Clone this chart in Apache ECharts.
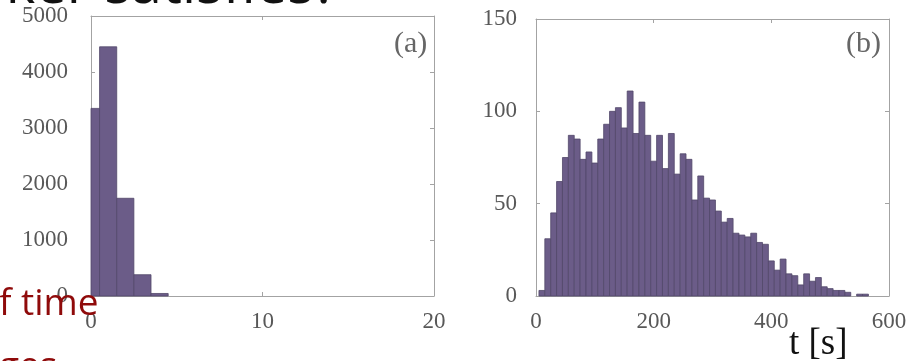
<!DOCTYPE html>
<html><head><meta charset="utf-8">
<script src="https://cdn.jsdelivr.net/npm/echarts@6/dist/echarts.min.js"></script>
<style>html,body{margin:0;padding:0;background:#fff}#c{width:913px;height:361px}</style>
</head><body><div id="c"></div>
<script>
// Panel (a): histogram, bin width 1, centers 0..4
const aCenters = [0, 1, 2, 3, 4];
const aCounts = [3350, 4450, 1745, 380, 45];
const aBinWidth = 1;
const aXTicks = [0, 10, 20];
const aYTicks = [0, 1000, 2000, 3000, 4000, 5000];

// Panel (b): histogram, bin width 10 s, centers 10..560
const bCenters = [10,20,30,40,50,60,70,80,90,100,110,120,130,140,150,160,170,180,190,200,
  210,220,230,240,250,260,270,280,290,300,310,320,330,340,350,360,370,380,390,400,
  410,420,430,440,450,460,470,480,490,500,510,520,530,540,550,560];
const bCounts = [3,31,45,62,75,87,85,74,78,72,85,93,100,102,91,111,88,105,87,73,
  87,69,88,66,77,74,52,65,53,52,46,40,42,34,33,32,34,29,28,19,
  14,20,12,11,6,12,8,10,5,4,3,3,2,0,1,1];
const bBinWidth = 10;
const bXTicks = [0, 200, 400, 600];
const bYTicks = [0, 50, 100, 150];

const panelLabels = ['(a)', '(b)'];
const xAxisTitle = 't [s]';
const slideTexts = ['ker satisfies?', 'f time', 'ges'];

const FILL = '#6b5c88', EDGE = '#52476a', BOX = '#a3a3a3', LBL = '#585858';
const SERIF = '"Liberation Serif", "DejaVu Serif", serif';

function ticksCfg(t) { return { min: t[0], max: t[t.length - 1], interval: t[1] - t[0] }; }
function plain(v) { return String(v); }

function xAx(grid, ticks, pos, showLabel) {
  return Object.assign({
    type: 'value', gridIndex: grid, position: pos,
    axisLine: { show: true, onZero: false, lineStyle: { color: BOX, width: 1 } },
    axisTick: { show: true, inside: true, length: 4, lineStyle: { color: BOX } },
    axisLabel: { show: showLabel, color: LBL, fontFamily: SERIF, fontSize: 23, margin: 14,
      showMinLabel: true, showMaxLabel: true, formatter: plain },
    splitLine: { show: false }
  }, ticksCfg(ticks));
}
function yAx(grid, ticks, pos, showLabel, margin) {
  return Object.assign({
    type: 'value', gridIndex: grid, position: pos,
    axisLine: { show: true, onZero: false, lineStyle: { color: BOX, width: 1 } },
    axisTick: { show: true, inside: true, length: 4, lineStyle: { color: BOX } },
    axisLabel: { show: showLabel, color: LBL, fontFamily: SERIF, fontSize: 23, margin: margin,
      showMinLabel: true, showMaxLabel: true, formatter: plain },
    splitLine: { show: false }
  }, ticksCfg(ticks));
}

function histSeries(idx, centers, counts, width, xmin) {
  return {
    type: 'custom', xAxisIndex: idx * 2, yAxisIndex: idx * 2, z: 1,
    data: centers.map((c, i) => [c, counts[i]]),
    renderItem: function (params, api) {
      const c = api.value(0), v = api.value(1);
      if (!v) return null;
      const x0 = Math.max(c - width / 2, xmin), x1 = c + width / 2;
      const p0 = api.coord([x0, v]), p1 = api.coord([x1, 0]);
      return { type: 'rect',
        shape: { x: p0[0], y: p0[1], width: p1[0] - p0[0], height: p1[1] - p0[1] },
        style: { fill: FILL, stroke: EDGE, lineWidth: 0.8 } };
    }
  };
}

const chart = echarts.init(document.getElementById('c'), null, { renderer: 'canvas' });
chart.setOption({
  animation: false,
  backgroundColor: '#fff',
  grid: [
    { left: 91, top: 16, width: 343, height: 280, show: false },
    { left: 536, top: 19, width: 353, height: 277, show: false }
  ],
  xAxis: [
    xAx(0, aXTicks, 'bottom', true), xAx(0, aXTicks, 'top', false),
    xAx(1, bXTicks, 'bottom', true), xAx(1, bXTicks, 'top', false)
  ],
  yAxis: [
    yAx(0, aYTicks, 'left', true, 23), yAx(0, aYTicks, 'right', false, 8),
    yAx(1, bYTicks, 'left', true, 19), yAx(1, bYTicks, 'right', false, 8)
  ],
  series: [
    histSeries(0, aCenters, aCounts, aBinWidth, aXTicks[0]),
    histSeries(1, bCenters, bCounts, bBinWidth, bXTicks[0])
  ],
  graphic: [
    { type: 'text', left: 394, top: 29, z: 10,
      style: { text: panelLabels[0], font: '30px ' + SERIF, fill: '#666' } },
    { type: 'text', left: 846, top: 29, z: 10,
      style: { text: panelLabels[1], font: '30px ' + SERIF, fill: '#666' } },
    { type: 'text', left: 789, top: 326, z: 10,
      style: { text: xAxisTitle, font: '37px ' + SERIF, fill: '#111' } },
    { type: 'text', x: 338, y: -13, z: -5,
      style: { text: slideTexts[0], font: '56px "Open Sans", sans-serif', fill: '#111',
        align: 'right', verticalAlign: 'middle' } },
    { type: 'text', x: -1, y: 304, z: 20,
      style: { text: slideTexts[1], font: '37px "Open Sans", sans-serif', fill: '#8f0a0a',
        align: 'left', verticalAlign: 'middle' } },
    { type: 'text', x: -1, y: 367, z: 20,
      style: { text: slideTexts[2], font: '37px "Open Sans", sans-serif', fill: '#8f0a0a',
        align: 'left', verticalAlign: 'middle' } }
  ]
});
</script>
</body></html>
